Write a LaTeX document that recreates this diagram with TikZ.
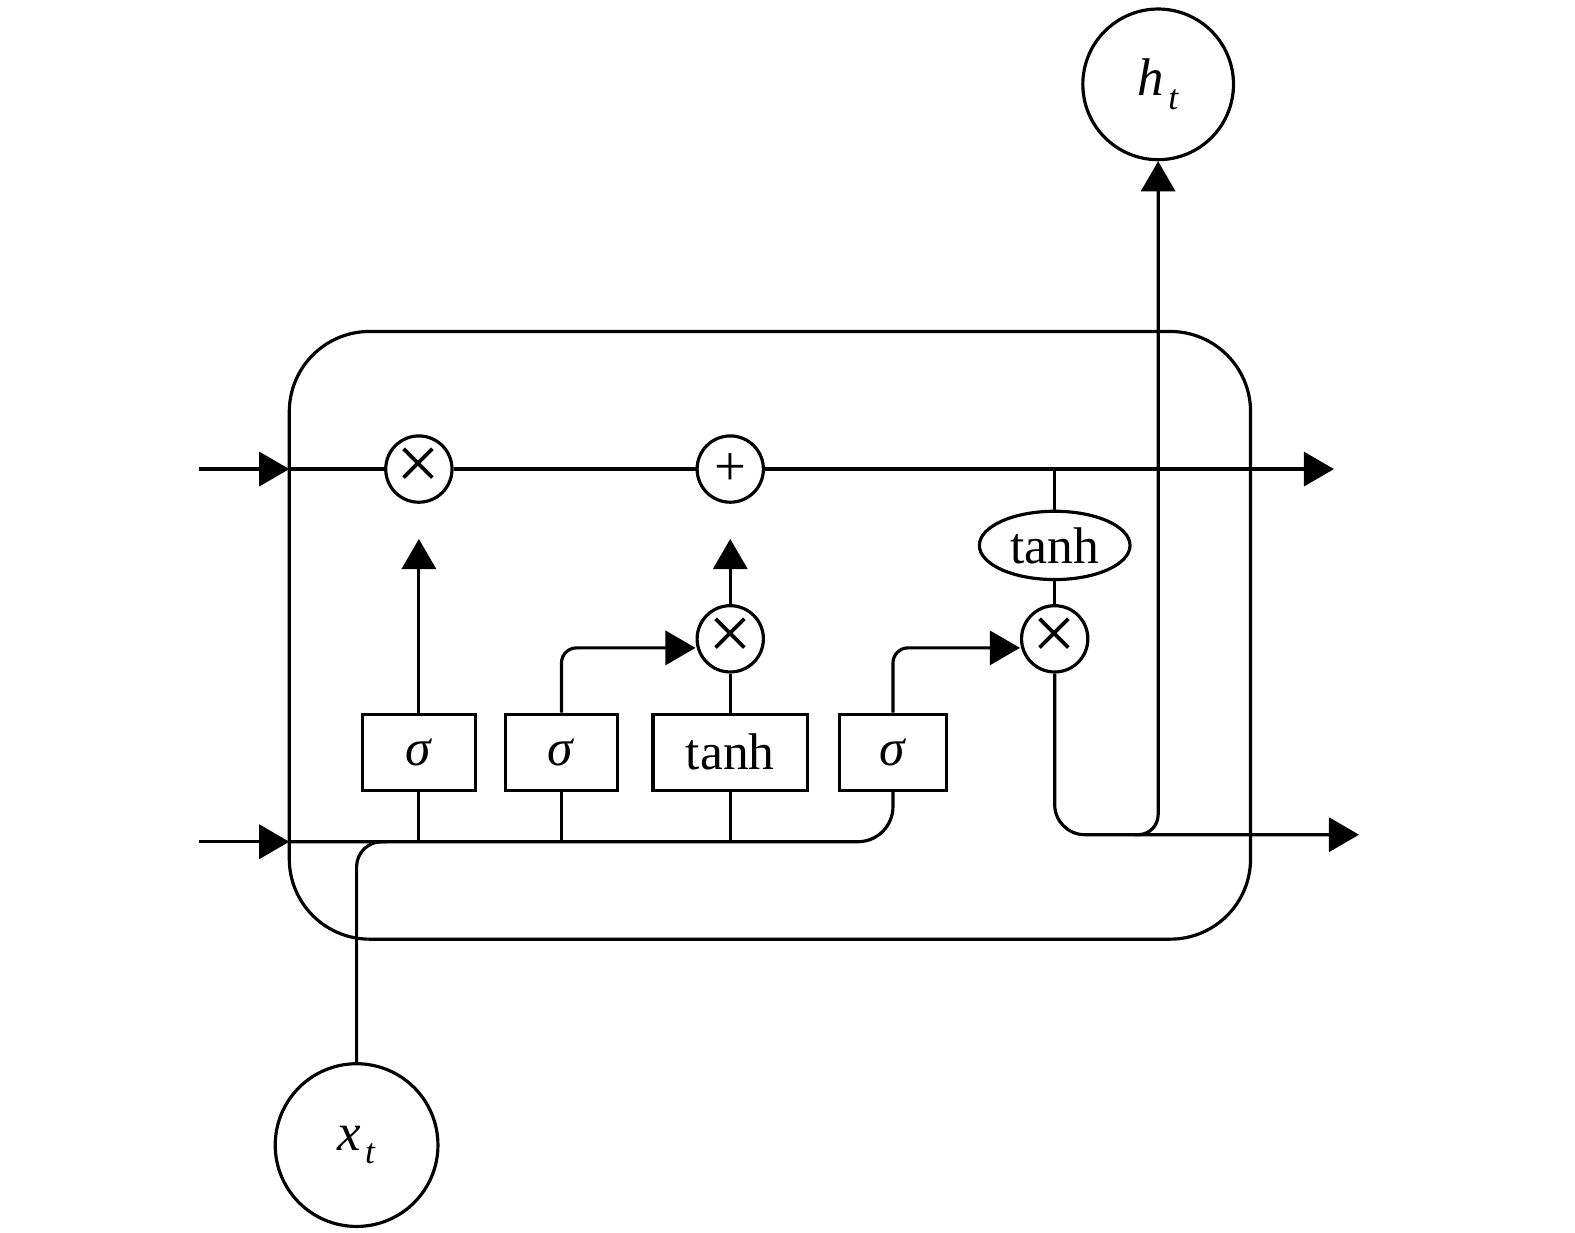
\documentclass[tikz,border=0pt]{standalone}
\usepackage{fontspec}
\setmainfont{Liberation Serif}
\usetikzlibrary{positioning,arrows.meta,shapes.geometric,calc}
\tikzset{
  cell/.style={draw,line width=0.9pt,rounded corners=8mm},
  wire/.style={line width=0.9pt},
  arrow/.style={wire,-{Triangle[length=3mm,width=3.4mm]}},
  gate/.style={draw,line width=0.9pt,minimum height=7.6mm,inner sep=0pt,
    font=\fontsize{14.6}{14.6}\selectfont},
  op/.style={draw,circle,line width=0.9pt,minimum size=6.6mm,inner sep=0pt},
  squash/.style={draw,ellipse,line width=0.9pt,minimum width=15mm,
    minimum height=6.8mm,inner sep=0pt,font=\fontsize{14.6}{14.6}\selectfont},
  io/.style={draw,circle,line width=0.9pt,inner sep=0pt,
    font=\fontsize{15}{15}\selectfont},
}
\newcommand{\mulsign}{{\fontsize{22}{22}\selectfont ×}}
\newcommand{\subt}{\kern1.2pt\raisebox{-0.55ex}{\fontsize{10}{10}\selectfont\textit{t}}}

\begin{document}
\begin{tikzpicture}
  \useasboundingbox (0,0) rectangle (15.68,12.27);
  % cell body
  \draw[cell] (2.88,2.92) rectangle (12.45,8.97);
  % pointwise operations
  \node[op] (mf)  at (4.17,7.60)  {\mulsign};
  \node[op] (add) at (7.27,7.60)  {\fontsize{16}{16}\selectfont +};
  \node[op] (mi)  at (7.27,5.91)  {\mulsign};
  \node[op] (mo)  at (10.50,5.91) {\mulsign};
  \node[squash] (tanhc) at (10.50,6.84) {tanh};
  % gate layers
  \node[gate,minimum width=11.2mm] (gf) at (4.17,4.78) {\textit{σ}};
  \node[gate,minimum width=11.2mm] (gi) at (5.59,4.78) {\textit{σ}};
  \node[gate,minimum width=15.4mm] (gc) at (7.27,4.78) {tanh};
  \node[gate,minimum width=10.7mm] (go) at (8.89,4.78) {\textit{σ}};
  % input / output
  \node[io,minimum size=15mm]   (ht) at (11.53,11.43) {\textit{h}\subt};
  \node[io,minimum size=16.2mm] (xt) at (3.55,0.87)   {\textit{x}\subt};
  % free ends
  \coordinate (cin)     at (1.98,7.60);
  \coordinate (cin-tip) at (2.88,7.60);
  \coordinate (cout)    at (13.28,7.60);
  \coordinate (hin)     at (1.98,3.89);
  \coordinate (hin-tip) at (2.88,3.89);
  \coordinate (xjoin)   at (3.85,3.89);
  \coordinate (hsplit)  at (11.30,3.96);
  \coordinate (hout)    at (13.53,3.96);

  % cell state
  \draw[arrow] (cin) -- (cin-tip);
  \draw[wire] (cin-tip) -- (mf) -- (add);
  \draw[arrow] (add) -- (cout);
  \draw[wire] (tanhc) -- (tanhc |- add);
  \draw[wire] (mo) -- (tanhc);
  % hidden state and input
  \draw[arrow] (hin) -- (hin-tip);
  \draw[wire,rounded corners=3.5mm] (hin-tip) -- (go.south |- hin-tip) -- (go.south);
  \foreach \g in {gf,gi,gc}
    \draw[wire] (\g.south) -- (\g.south |- hin-tip);
  \draw[wire,rounded corners=2.5mm] (xt) |- (xjoin);
  % gates
  \draw[arrow,shorten >=3.5mm] (gf) -- (mf);
  \draw[arrow,rounded corners=1.5mm] (gi) |- ([yshift=-0.9mm]mi.west);
  \draw[wire] (gc) -- (mi);
  \draw[arrow,shorten >=3.5mm] (mi) -- (add);
  \draw[arrow,rounded corners=1.5mm] (go) |- ([yshift=-0.9mm]mo.west);
  % output
  \draw[arrow,rounded corners=3mm] (mo) |- (hout);
  \draw[arrow,rounded corners=2mm] (hsplit) -| (ht);
\end{tikzpicture}
\end{document}
